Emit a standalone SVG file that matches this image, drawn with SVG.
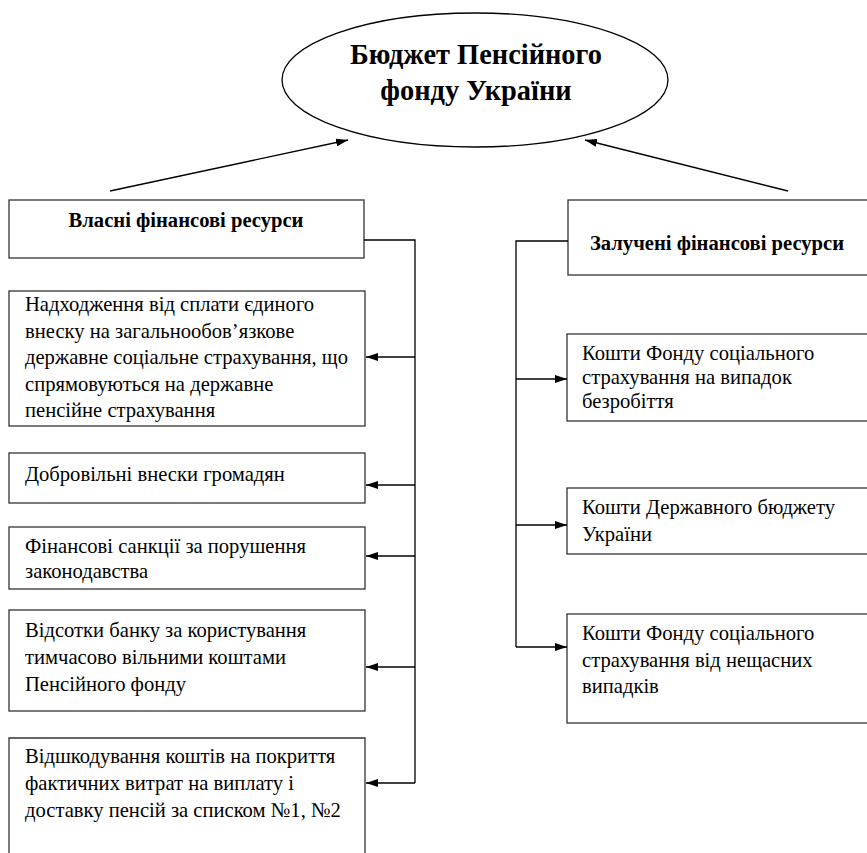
<svg xmlns="http://www.w3.org/2000/svg" width="867" height="853" viewBox="0 0 867 853">
<style>
.box{fill:#fff;stroke:#333;stroke-width:1.3}
.t{font-family:"Liberation Serif","Times New Roman",serif;font-size:20.6px;fill:#000}
.b{font-family:"Liberation Serif","Times New Roman",serif;font-size:20.6px;font-weight:bold;fill:#000}
.h{font-family:"Liberation Serif","Times New Roman",serif;font-size:28.4px;font-weight:bold;fill:#000}
.c{fill:none;stroke:#000;stroke-width:1.3}
</style>
<defs>
<marker id="ah" viewBox="0 0 12 8" refX="12" refY="4" markerWidth="12" markerHeight="8" markerUnits="userSpaceOnUse" orient="auto">
<path d="M0,0 L12,4 L0,8 Z" fill="#000"/>
</marker>
</defs>
<rect width="867" height="853" fill="#fff"/>
<g id="root">
<ellipse cx="475" cy="80" rx="193" ry="67" fill="#fff" stroke="#000" stroke-width="1.3"/>
<text class="h" x="476" y="64" text-anchor="middle">Бюджет Пенсійного</text>
<text class="h" x="476" y="100" text-anchor="middle">фонду України</text>
</g>
<g id="own">
<rect class="box" x="9" y="200" width="355" height="58"/>
<text class="b" x="186" y="227" text-anchor="middle">Власні фінансові ресурси</text>
</g>
<g id="attracted">
<rect class="box" x="568" y="200" width="305" height="75"/>
<text class="b" x="717" y="250" text-anchor="middle">Залучені фінансові ресурси</text>
</g>
<g id="l1">
<rect class="box" x="9" y="291" width="356" height="135"/>
<text class="t" x="25" y="311">Надходження від сплати єдиного</text>
<text class="t" x="25" y="338">внеску на загальнообов’язкове</text>
<text class="t" x="25" y="364">державне соціальне страхування, що</text>
<text class="t" x="25" y="391">спрямовуються на державне</text>
<text class="t" x="25" y="417">пенсійне страхування</text>
</g>
<g id="l2">
<rect class="box" x="9" y="453" width="356" height="50"/>
<text class="t" x="25" y="481">Добровільні внески громадян</text>
</g>
<g id="l3">
<rect class="box" x="9" y="527" width="356" height="62"/>
<text class="t" x="25" y="553">Фінансові санкції за порушення</text>
<text class="t" x="25" y="578">законодавства</text>
</g>
<g id="l4">
<rect class="box" x="9" y="610" width="356" height="101"/>
<text class="t" x="25" y="637">Відсотки банку за користування</text>
<text class="t" x="25" y="664">тимчасово вільними коштами</text>
<text class="t" x="25" y="691">Пенсійного фонду</text>
</g>
<g id="l5">
<path class="box" d="M9,860 V738 H365 V860"/>
<text class="t" x="25" y="763">Відшкодування коштів на покриття</text>
<text class="t" x="25" y="790">фактичних витрат на виплату і</text>
<text class="t" x="25" y="817">доставку пенсій за списком №1, №2</text>
</g>
<g id="r1">
<rect class="box" x="567" y="334" width="306" height="87"/>
<text class="t" x="582" y="360">Кошти Фонду соціального</text>
<text class="t" x="582" y="384">страхування на випадок</text>
<text class="t" x="582" y="408">безробіття</text>
</g>
<g id="r2">
<rect class="box" x="567" y="488" width="306" height="66"/>
<text class="t" x="582" y="514">Кошти Державного бюджету</text>
<text class="t" x="582" y="541">України</text>
</g>
<g id="r3">
<rect class="box" x="567" y="614" width="306" height="109"/>
<text class="t" x="582" y="640">Кошти Фонду соціального</text>
<text class="t" x="582" y="667">страхування від нещасних</text>
<text class="t" x="582" y="693">випадків</text>
</g>
<g id="connectors">
<line class="c" x1="110" y1="191" x2="348" y2="140" marker-end="url(#ah)"/>
<line class="c" x1="788" y1="191" x2="585" y2="140" marker-end="url(#ah)"/>
<path class="c" d="M364,240 H415 V783"/>
<line class="c" x1="415" y1="357" x2="366" y2="357" marker-end="url(#ah)"/>
<line class="c" x1="415" y1="485" x2="366" y2="485" marker-end="url(#ah)"/>
<line class="c" x1="415" y1="556" x2="366" y2="556" marker-end="url(#ah)"/>
<line class="c" x1="415" y1="667" x2="366" y2="667" marker-end="url(#ah)"/>
<line class="c" x1="415" y1="783" x2="366" y2="783" marker-end="url(#ah)"/>
<path class="c" d="M568,241 H516 V647"/>
<line class="c" x1="516" y1="379" x2="567" y2="379" marker-end="url(#ah)"/>
<line class="c" x1="516" y1="525" x2="567" y2="525" marker-end="url(#ah)"/>
<line class="c" x1="516" y1="647" x2="567" y2="647" marker-end="url(#ah)"/>
</g>
</svg>
